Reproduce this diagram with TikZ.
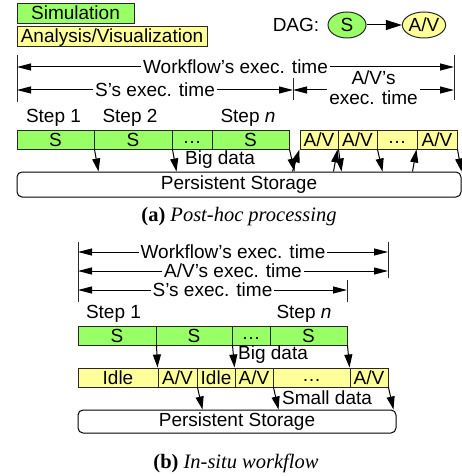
\documentclass[tikz,border=0pt]{standalone}
\usepackage{fontspec}
\setmainfont{Liberation Sans}
\newfontfamily\capfont{Liberation Serif}
\usetikzlibrary{arrows.meta,shapes.geometric,calc}

\definecolor{simgreen}{RGB}{153,255,102}
\definecolor{avyellow}{RGB}{255,255,153}
\definecolor{edge}{RGB}{40,40,40}

\tikzset{
  txt/.style={font=\fontsize{19}{21}\selectfont, inner sep=0pt},
  cellbox/.style={txt, draw=edge, line width=1pt, minimum height=19pt, text height=13.6pt, text depth=0pt},
  simcell/.style={cellbox, fill=simgreen},
  avcell/.style={cellbox, fill=avyellow},
  storebox/.style={txt, draw=black, line width=1pt, rounded corners=5pt, text height=13.6pt, text depth=3pt},
  legendbox/.style={txt, draw=edge, line width=1pt, minimum height=20pt, text height=13.6pt, text depth=3.5pt},
  dataflow/.style={line width=1pt, arrows={-Triangle[length=13pt,width=8pt]}},
  dagflow/.style={line width=1pt, arrows={-Triangle[length=16pt,width=10pt]}},
  span/.style={line width=1pt, arrows={Triangle[length=14pt,width=7pt]-Triangle[length=14pt,width=7pt]}},
  spanlbl/.style={txt, fill=white, inner xsep=2pt, inner ysep=1pt},
  bar/.style={line width=0.8pt, draw=edge},
  caption/.style={font=\capfont\fontsize{20.5}{23}\selectfont, inner sep=0pt},
}
\newcommand{\celldots}{\raisebox{3pt}{\textellipsis}}

\begin{document}
\begin{tikzpicture}[x=1pt,y=-1pt]
\useasboundingbox (0,0) rectangle (462,476);

% ---------- legend and DAG ----------
\node[legendbox, fill=simgreen, minimum width=117pt] (legS) at (75.5,14) {Simulation};
\node[legendbox, fill=avyellow, minimum width=190pt] (legAV) at (112,37) {Analysis/Visualization};

\node[txt] (dag) at (296,25) {DAG:};
\node[txt, ellipse, draw=edge, line width=1pt, fill=simgreen, minimum width=38pt, minimum height=26pt] (dagS) at (347,25) {S};
\node[txt, ellipse, draw=edge, line width=1pt, fill=avyellow, minimum width=40pt, minimum height=26pt, inner sep=0pt] (dagAV) at (424,25) {A/V};
\draw[dagflow] (dagS) -- (dagAV);

% ---------- (a) post-hoc processing: time spans ----------
\coordinate (aL1) at (17,55);   \coordinate (aL2) at (17,102);
\coordinate (aR1) at (454,55);  \coordinate (aR2) at (454,100);
\coordinate (aM1) at (293,78);  \coordinate (aM2) at (293,100);
\draw[bar] (aL1) -- (aL2);
\draw[bar] (aR1) -- (aR2);
\draw[bar] (aM1) -- (aM2);

\coordinate (aWl) at (17,67);  \coordinate (aWr) at (454,67);
\draw[span] (aWl) -- node[spanlbl] (aWlbl) {Workflow’s exec. time} (aWr);
\coordinate (aSl) at (17,90);  \coordinate (aSr) at (293,90);
\draw[span] (aSl) -- node[spanlbl] (aSlbl) {S’s exec. time} (aSr);
\coordinate (aAl) at (293,90); \coordinate (aAr) at (454,90);
\draw[span] (aAl) -- node[spanlbl, align=center, yshift=2pt] (aAlbl) {A/V’s\\[-1pt]exec. time} (aAr);

% ---------- (a) steps ----------
\node[txt] (aStep1) at (53.5,118) {Step 1};
\node[txt] (aStep2) at (130,118) {Step 2};
\node[txt] (aStepn) at (248,118) {Step \textit{n}};

\node[simcell, minimum width=77pt] (s1) at (55.5,139.5) {S};
\node[simcell, minimum width=78pt] (s2) at (133,139.5) {S};
\node[simcell, minimum width=40pt] (s3) at (192,139.5) {\celldots};
\node[simcell, minimum width=77pt] (s4) at (250.5,139.5) {S};

\node[avcell, minimum width=38pt] (a1) at (319,139.5) {A/V};
\node[avcell, minimum width=39pt] (a2) at (357.5,139.5) {A/V};
\node[avcell, minimum width=40pt] (a3) at (397,139.5) {\celldots};
\node[avcell, minimum width=40pt] (a4) at (437,139.5) {A/V};

\node[storebox, minimum width=444pt, minimum height=25pt] (aStore) at (239,184.5) {Persistent Storage};

\node[txt, anchor=west] (aBig) at (185,160) {Big data};

% simulation output written to storage
\draw[dataflow] (s1.south east) -- ([xshift=4pt]s1.south east |- aStore.north);
\draw[dataflow] (s2.south east) -- ([xshift=4pt]s2.south east |- aStore.north);
\draw[dataflow] (s4.south east) -- ([xshift=5pt]s4.south east |- aStore.north);
% analysis reads from and writes to storage
\draw[dataflow] ([xshift=-7pt]a1.south west |- aStore.north) -- (a1.south west);
\draw[dataflow] (a1.south east) -- ([xshift=3pt]a1.south east |- aStore.north);
\draw[dataflow] ([xshift=-4pt]a2.south west |- aStore.north) -- (a2.south west);
\draw[dataflow] (a2.south east) -- ([xshift=5pt]a2.south east |- aStore.north);
\draw[dataflow] ([xshift=-4pt]a4.south west |- aStore.north) -- (a4.south west);
\draw[dataflow] (a4.south east) -- ([xshift=4pt]a4.south east |- aStore.north);

\node[caption] (capA) at (239,217) {\textbf{(a)} \textit{Post-hoc processing}};

% ---------- (b) in-situ workflow: time spans ----------
\coordinate (bL1) at (78,242);  \coordinate (bL2) at (78,302);
\coordinate (bR1) at (388,242); \coordinate (bR2) at (388,278);
\coordinate (bM1) at (347,280); \coordinate (bM2) at (347,302);
\draw[bar] (bL1) -- (bL2);
\draw[bar] (bR1) -- (bR2);
\draw[bar] (bM1) -- (bM2);

\coordinate (bWl) at (78,252);  \coordinate (bWr) at (388,252);
\draw[span] (bWl) -- node[spanlbl] (bWlbl) {Workflow’s exec. time} (bWr);
\coordinate (bAl) at (78,271);  \coordinate (bAr) at (388,271);
\draw[span] (bAl) -- node[spanlbl] (bAlbl) {A/V’s exec. time} (bAr);
\coordinate (bSl) at (78,290);  \coordinate (bSr) at (347,290);
\draw[span] (bSl) -- node[spanlbl] (bSlbl) {S’s exec. time} (bSr);

% ---------- (b) steps ----------
\node[txt] (bStep1) at (113.5,314) {Step 1};
\node[txt] (bStepn) at (304,314) {Step \textit{n}};

\node[simcell, minimum width=78pt] (t1) at (117,335.5) {S};
\node[simcell, minimum width=76pt] (t2) at (194,335.5) {S};
\node[simcell, minimum width=38pt] (t3) at (251,335.5) {\celldots};
\node[simcell, minimum width=77pt] (t4) at (308.5,335.5) {S};

\node[avcell, minimum width=80pt] (y1) at (118,377.5) {Idle};
\node[avcell, minimum width=39pt] (y2) at (177.5,377.5) {A/V};
\node[avcell, minimum width=38pt] (y3) at (216,377.5) {Idle};
\node[avcell, minimum width=38pt] (y4) at (254,377.5) {A/V};
\node[avcell, minimum width=77pt] (y5) at (311.5,377.5) {\celldots};
\node[avcell, minimum width=38pt] (y6) at (369,377.5) {A/V};

\node[storebox, minimum width=318pt, minimum height=23pt] (bStore) at (237,421.5) {Persistent Storage};

\node[txt, anchor=west] (bBig) at (238,355) {Big data};
\node[txt, anchor=west] (bSmall) at (282,398) {Small data};

% simulation hands data straight to analysis
\draw[dataflow] (t1.south east) -- (y2.north west);
\draw[dataflow] (t2.south east) -- (y4.north west);
\draw[dataflow] (t4.south east) -- (y6.north west);
% only reduced results reach storage
\draw[dataflow] (y2.south east) -- ([xshift=5pt]y2.south east |- bStore.north);
\draw[dataflow] (y4.south east) -- ([xshift=5pt]y4.south east |- bStore.north);
\draw[dataflow] (y6.south east) -- ([xshift=5pt]y6.south east |- bStore.north);

\node[caption] (capB) at (236,463) {\textbf{(b)} \textit{In-situ workflow}};
\end{tikzpicture}
\end{document}
